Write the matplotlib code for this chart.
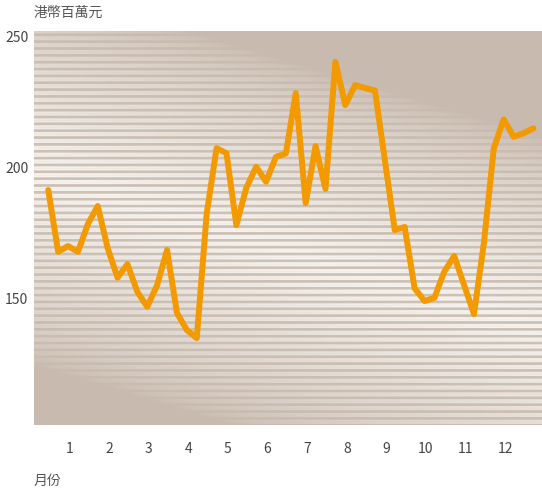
import numpy as np
import matplotlib
matplotlib.use("Agg")
import matplotlib.pyplot as plt

plt.rcParams['font.family'] = ['Noto Sans CJK TC', 'DejaVu Sans']

# Data (weekly values, ~4 per month)
values = [191.4, 167.8, 170.0, 167.8, 178.4, 185.3, 169.2, 157.9, 163.1, 152.5,
          146.8, 155.1, 168.5, 144.4, 137.9, 134.8, 182.2, 207.4, 205.5, 178.0,
          192.2, 200.3, 194.6, 204.1, 205.4, 228.4, 186.4, 208.2, 191.8, 240.4,
          223.9, 231.5, 230.4, 229.4, 202.8, 176.1, 177.3, 153.9, 149.0, 150.2,
          160.2, 166.2, 155.1, 144.0, 171.1, 207.3, 218.4, 211.8, 213.1, 215.0]
month_labels = ['1', '2', '3', '4', '5', '6', '7', '8', '9', '10', '11', '12']
y_ticks = [150, 200, 250]
y_label = '港幣百萬元'
x_label = '月份'

W, H = 542, 492
fig = plt.figure(figsize=(W / 100, H / 100), dpi=100)
L, R, T, B = 34, 542, 31, 425
ax = fig.add_axes([L / W, 1 - B / H, (R - L) / W, (B - T) / H])

# Background: striped diagonal gradient
ny, nx = B - T, R - L
py = np.arange(ny)[:, None] + T + 0.5
px = np.arange(nx)[None, :] + L + 0.5
s = -0.287 * px + 0.958 * py
w = np.clip(1 - np.abs(s - 158) / 182, 0, 1)
w = w ** 0.6
period = 6.85
d = np.abs(((py - 0.55) % period) - period / 2)  # distance from light-row center
dd = period / 2 - d  # distance to dark line center
m = np.clip((dd - 0.9) / 0.9, 0, 1)
m = m * (1 - 0.12 * np.exp(-((d) ** 2) / 0.5))
taupe = np.array([200, 186, 174]) / 255
white = np.array([247, 244, 240]) / 255
f = (w * (0.12 + 0.88 * m))[..., None]
img = taupe + (white - taupe) * f
ax.imshow(img, extent=[0, 1, 0, 1], transform=ax.transAxes, aspect='auto',
          interpolation='nearest', zorder=0)

x = np.arange(len(values))
ax.plot(x, values, color='#f29a00', lw=4.3, solid_joinstyle='round',
        solid_capstyle='round', zorder=3)

ax.set_xlim(-1.44, 49.87)
ax.set_ylim(101.6, 252.2)
ax.set_xticks([2.15 + 4 * i for i in range(12)])
ax.set_xticklabels(month_labels)
ax.set_yticks(y_ticks)
ax.tick_params(axis='both', length=0, labelsize=10, colors='#444444')
ax.tick_params(axis='x', pad=12)
ax.tick_params(axis='y', pad=4)
for lab in ax.get_xticklabels() + ax.get_yticklabels():
    lab.set_fontweight('light')
for sp in ax.spines.values():
    sp.set_visible(False)

fig.text(L / W, 1 - 13 / H, y_label, ha='left', va='center', fontsize=10,
         color='#555555', fontweight='light')
fig.text(L / W, 1 - 481 / H, x_label, ha='left', va='center', fontsize=10,
         color='#555555', fontweight='light')

fig.savefig('out.png', dpi=100)
